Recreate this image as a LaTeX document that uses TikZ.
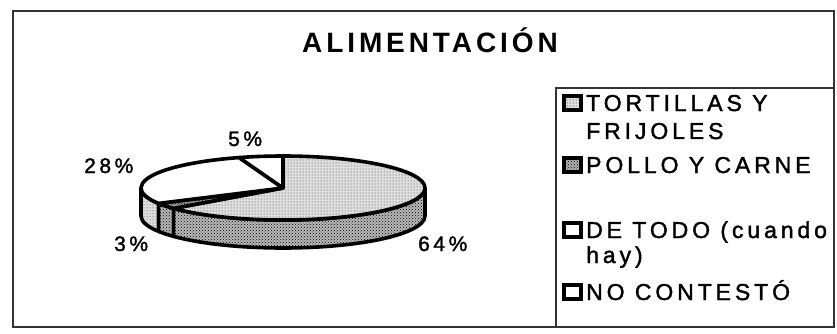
\documentclass[tikz,border=0pt]{standalone}
\usepackage{fontspec}
\setmainfont{Liberation Sans}
\newfontfamily\legfont[LetterSpace=17,FakeBold=1.6]{Liberation Sans}
\newfontfamily\ttlfont[LetterSpace=14]{Liberation Sans}
\usetikzlibrary{patterns}
\tikzset{
  frame/.style={draw=black!80, line width=1.4pt},
  slice/.style={draw=black, line width=3.6pt, line join=round},
  lightdots/.style={slice, preaction={fill=gray!25}, pattern=dots, pattern color=black!80},
  meddots/.style={slice, preaction={fill=gray!55}, pattern=crosshatch dots, pattern color=black},
  darkdots/.style={slice, preaction={fill=gray!80}, pattern=crosshatch dots, pattern color=black},
  whiteslice/.style={slice, fill=white},
  pct/.style={anchor=base west, inner sep=0pt, font={\legfont\fontsize{21}{23}\selectfont}},
  leg/.style={anchor=base west, inner sep=0pt, font={\legfont\fontsize{23}{25}\selectfont}},
  mark box/.style={draw=black, line width=3.6pt},
}
\begin{document}
\begin{tikzpicture}[x=1pt,y=1pt]
\useasboundingbox (0,0) rectangle (837,-334);
% frames
\draw[frame] (13,-11) rectangle (834,-327);
\draw[frame] (556,-88) rectangle (834,-327);
% title
\node[anchor=base, inner sep=0pt, font={\ttlfont\bfseries\fontsize{28}{32}\selectfont}] (title) at (430,-53) {ALIMENTACIÓN};
% pie
\begin{scope}[shift={(283,-188)}]
  % sides
  \path[lightdots] (180:142 and 32) -- ++(0,-28)
     arc[start angle=180, end angle=208.8, x radius=142, y radius=32] -- ++(0,28)
     arc[start angle=208.8, end angle=180, x radius=142, y radius=32] -- cycle;
  \path[meddots] (208.8:142 and 32) -- ++(0,-28)
     arc[start angle=208.8, end angle=219.6, x radius=142, y radius=32] -- ++(0,28)
     arc[start angle=219.6, end angle=208.8, x radius=142, y radius=32] -- cycle;
  \path[meddots] (219.6:142 and 32) -- ++(0,-28)
     arc[start angle=219.6, end angle=360, x radius=142, y radius=32] -- ++(0,28)
     arc[start angle=360, end angle=219.6, x radius=142, y radius=32] -- cycle;
  % tops
  \path[lightdots] (0,0) -- (90:142 and 32)
     arc[start angle=90, end angle=-140.4, x radius=142, y radius=32] -- cycle;
  \path[darkdots] (0,0) -- (219.6:142 and 32)
     arc[start angle=219.6, end angle=208.8, x radius=142, y radius=32] -- cycle;
  \path[whiteslice] (0,0) -- (208.8:142 and 32)
     arc[start angle=208.8, end angle=108, x radius=142, y radius=32] -- cycle;
  \path[whiteslice] (0,0) -- (108:142 and 32)
     arc[start angle=108, end angle=90, x radius=142, y radius=32] -- cycle;
\end{scope}
% percentages
\node[pct] (p5) at (228,-146) {5\%};
\node[pct] (p28) at (84,-173) {28\%};
\node[pct] (p3) at (114,-251) {3\%};
\node[pct] (p64) at (418,-251) {64\%};
% legend markers
\path[mark box, preaction={fill=gray!25}, pattern=dots] (564,-96) rectangle (581,-110);
\path[mark box, preaction={fill=gray!60}, pattern=crosshatch dots] (564,-158) rectangle (581,-172);
\path[mark box, fill=white] (564,-223) rectangle (581,-237);
\path[mark box, fill=white] (564,-285) rectangle (581,-299);
% legend texts
\node[leg] (l1) at (586,-111) {TORTILLAS Y};
\node[leg] (l1b) at (586,-139) {FRIJOLES};
\node[leg] (l2) at (586,-173) {POLLO Y CARNE};
\node[leg] (l3) at (586,-238) {DE TODO (cuando};
\node[leg] (l3b) at (586,-263) {hay)};
\node[leg] (l4) at (586,-300) {NO CONTESTÓ};
\end{tikzpicture}
\end{document}
